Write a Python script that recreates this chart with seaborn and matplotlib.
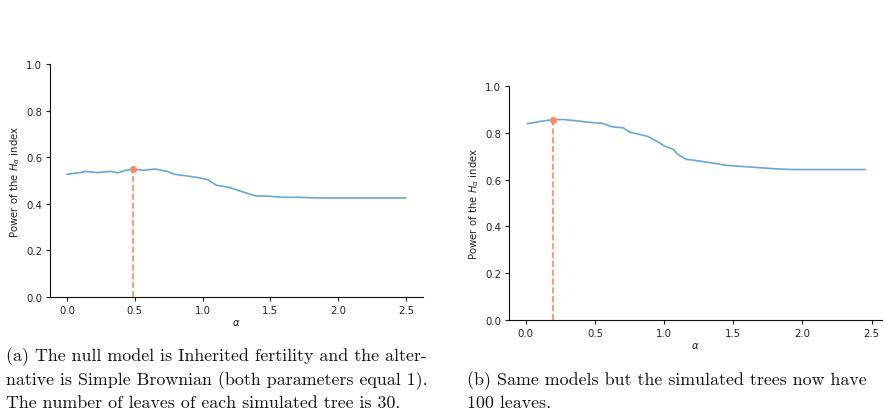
import matplotlib
matplotlib.use("Agg")
import matplotlib.pyplot as plt
import seaborn as sns
import pandas as pd

# Panel (a): 30 leaves
alpha_a = [0.0, 0.10, 0.135, 0.22, 0.32, 0.38, 0.43, 0.486, 0.565, 0.65, 0.74, 0.79,
           0.88, 0.98, 1.04, 1.10, 1.20, 1.28, 1.39, 1.47, 1.60, 1.72, 1.84, 2.5]
power_a = [0.527, 0.534, 0.539, 0.534, 0.539, 0.533, 0.544, 0.549, 0.544, 0.549, 0.539, 0.527,
           0.520, 0.511, 0.503, 0.480, 0.470, 0.454, 0.434, 0.433, 0.428, 0.428, 0.425, 0.425]
best_a = (0.486, 0.549)

# Panel (b): 100 leaves
alpha_b = [0.01, 0.105, 0.197, 0.27, 0.37, 0.49, 0.55, 0.62, 0.705, 0.75, 0.825, 0.885,
           0.945, 1.005, 1.065, 1.10, 1.16, 1.235, 1.35, 1.45, 1.57, 1.69, 1.81, 1.93, 2.455]
power_b = [0.839, 0.849, 0.856, 0.857, 0.851, 0.843, 0.841, 0.826, 0.821, 0.803, 0.793, 0.784,
           0.764, 0.743, 0.730, 0.707, 0.687, 0.681, 0.671, 0.661, 0.656, 0.651, 0.646, 0.643, 0.643]
best_b = (0.197, 0.856)

captions_a = ["(a) The null model is Inherited fertility and the alter-",
              "native is Simple Brownian (both parameters equal 1).",
              "The number of leaves of each simulated tree is 30."]
captions_b = ["(b) Same models but the simulated trees now have",
              "100 leaves."]

sns.set_style("ticks")
plt.rcParams['font.family'] = ['DejaVu Sans']
plt.rcParams['text.color'] = '#222222'
plt.rcParams['xtick.color'] = '#222222'
plt.rcParams['ytick.color'] = '#222222'
plt.rcParams['axes.labelcolor'] = '#222222'
plt.rcParams['axes.edgecolor'] = '#111111'
LINE = "#66a8d4"
ORANGE = "#f98c5f"

fig = plt.figure(figsize=(8.96, 4.14), dpi=100)
ax1 = fig.add_axes([0.0558, 0.2802, 0.4163, 0.5628])
ax2 = fig.add_axes([0.568, 0.2246, 0.416, 0.5652])

for ax, xs, ys, best in [(ax1, alpha_a, power_a, best_a), (ax2, alpha_b, power_b, best_b)]:
    df = pd.DataFrame({"alpha": xs, "power": ys})
    sns.lineplot(data=df, x="alpha", y="power", ax=ax, color=LINE, linewidth=1.2)
    ax.plot([best[0], best[0]], [0, best[1]], color=ORANGE, linestyle="--", linewidth=1.2)
    sns.scatterplot(x=[best[0]], y=[best[1]], ax=ax, color=ORANGE, s=22, edgecolor=ORANGE,
                    zorder=5)
    ax.set_ylim(0, 1.0)
    ax.set_xticks([0.0, 0.5, 1.0, 1.5, 2.0, 2.5])
    ax.set_yticks([0.0, 0.2, 0.4, 0.6, 0.8, 1.0])
    ax.tick_params(labelsize=7.3, length=3, width=0.8, pad=2.5)
    ax.set_xlabel(r"$\alpha$", fontsize=7.3, labelpad=2)
    ax.set_ylabel(r"Power of the $H_\alpha$ index", fontsize=7.3, labelpad=3)
    sns.despine(ax=ax)

ax1.set_xlim(-0.125, 2.625)
ax2.set_xlim(-0.1225, 2.5725)

cap_font = dict(family="cmr10", fontsize=12.9, va="center", ha="left", color="#111111")
for t, y in zip(captions_a, [357, 381, 403]):
    fig.text(6 / 896, 1 - y / 414, t, **cap_font)
for t, y in zip(captions_b, [381, 403]):
    fig.text(467 / 896, 1 - y / 414, t, **cap_font)

fig.savefig("out.png", dpi=100)
